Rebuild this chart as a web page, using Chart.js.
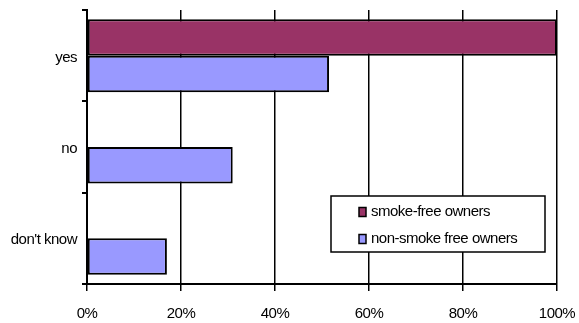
<!DOCTYPE html>
<html>
<head>
<meta charset="utf-8">
<script src="https://cdn.jsdelivr.net/npm/chart.js@4.4.1/dist/chart.umd.min.js"></script>
<style>
    html, body{
        margin: 0;
        padding: 0;
        background: #ffffff;
    }
    #wrap{
        position: relative;
        width: 579px;
        height: 323px;
    }
</style>
</head>
<body>
<div id="wrap"><canvas id="chart"></canvas></div>
<script>
// data (percent)
var categories = ["yes", "no", "don't know"];
var smokeFree = [100, 0, 0];
var nonSmokeFree = [51.5, 31, 17];
var seriesNames = ["smoke-free owners", "non-smoke free owners"];
var xTicks = [0, 20, 40, 60, 80, 100];

var FONT = "'Liberation Sans', Arial, sans-serif";
var SPACING = "-0.5px";

// tight letters like the original
var spacingPlugin = {
    id: "spacing",
    beforeUpdate: function(chart){ chart.ctx.letterSpacing = SPACING; },
    beforeDraw: function(chart){ chart.ctx.letterSpacing = SPACING; }
};

// boxed legend inside the plot, lower right
var boxLegend = {
    id: "boxLegend",
    afterDraw: function(chart){
        var ctx = chart.ctx;
        var a = chart.chartArea;
        var w = 214, h = 56;
        var x = a.right - 12 - w;
        var y = a.bottom - 32 - h;
        ctx.save();
        ctx.letterSpacing = SPACING;
        ctx.fillStyle = "#ffffff";
        ctx.fillRect(x, y, w, h);
        ctx.lineWidth = 1.5;
        ctx.strokeStyle = "#000000";
        ctx.strokeRect(x, y, w, h);
        ctx.font = "15px " + FONT;
        ctx.textBaseline = "middle";
        chart.data.datasets.forEach(function(ds, i){
            var cy = y + 16 + i * 27;
            ctx.fillStyle = ds.backgroundColor;
            ctx.fillRect(x + 28, cy - 4.5, 7, 9);
            ctx.strokeRect(x + 28, cy - 4.5, 7, 9);
            ctx.fillStyle = "#000000";
            ctx.fillText(ds.label, x + 40, cy);
        });
        ctx.restore();
    }
};

new Chart(document.getElementById("chart"), {
    type: "bar",
    data: {
        labels: categories,
        datasets: [
            {
                label: seriesNames[0],
                data: smokeFree,
                backgroundColor: "#993366",
                borderColor: "#000000",
                borderWidth: 2,
                borderSkipped: false,
                barPercentage: 1,
                categoryPercentage: 0.8
            },
            {
                label: seriesNames[1],
                data: nonSmokeFree,
                backgroundColor: "#9999ff",
                borderColor: "#000000",
                borderWidth: 2,
                borderSkipped: false,
                barPercentage: 1,
                categoryPercentage: 0.8
            }
        ]
    },
    options: {
        indexAxis: "y",
        responsive: true,
        maintainAspectRatio: false,
        animation: false,
        layout: { padding: { top: 10, right: 22, left: 0, bottom: 0 } },
        plugins: {
            legend: { display: false },
            tooltip: { enabled: false }
        },
        scales: {
            x: {
                min: 0,
                max: 100,
                afterBuildTicks: function(scale){
                    scale.ticks = xTicks.map(function(v){ return { value: v }; });
                },
                afterFit: function(scale){
                    scale.height = 39;
                    scale.paddingLeft = 0;
                    scale.paddingRight = 0;
                },
                grid: {
                    color: "#000000",
                    lineWidth: 1.5,
                    tickLength: 7,
                    drawTicks: true
                },
                border: { color: "#000000", width: 2 },
                ticks: {
                    color: "#000000",
                    padding: 14,
                    font: { family: FONT, size: 15 },
                    callback: function(v){ return v + "%"; }
                }
            },
            y: {
                afterFit: function(scale){
                    scale.width = 87;
                    scale.paddingTop = 0;
                    scale.paddingBottom = 0;
                },
                grid: {
                    offset: true,
                    drawOnChartArea: false,
                    color: "#000000",
                    lineWidth: 2,
                    tickLength: 5
                },
                border: { color: "#000000", width: 2 },
                ticks: {
                    color: "#000000",
                    padding: 5,
                    labelOffset: 2,
                    font: { family: FONT, size: 15 }
                }
            }
        }
    },
    plugins: [spacingPlugin, boxLegend]
});
</script>
</body>
</html>
